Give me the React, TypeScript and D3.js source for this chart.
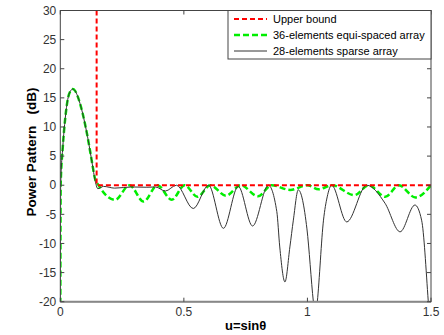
import React from 'react';
import * as d3 from 'd3';

const width = 444;
const height = 335;
const margin = { top: 10.5, right: 13, bottom: 33.3, left: 60.3 };

const xTicks = [0, 0.5, 1, 1.5];
const yTicks = [-20, -15, -10, -5, 0, 5, 10, 15, 20, 25, 30];

const legendLabels = ['Upper bound', '36-elements equi-spaced array', '28-elements sparse array'];

// upper bound mask
const boundU = [0.147, 0.147, 1.5];
const boundDb = [30, 0, 0];

// 36-element equi-spaced array
const equiU = [0, 0.0015, 0.01, 0.02, 0.03, 0.04, 0.05, 0.06, 0.07, 0.08, 0.09, 0.1, 0.11, 0.12, 0.13, 0.14,
  0.155, 0.222, 0.28, 0.337, 0.393, 0.451, 0.503, 0.555, 0.607, 0.67, 0.73, 0.8, 0.855, 0.93, 1.0, 1.045,
  1.1, 1.19, 1.248, 1.315, 1.37, 1.437, 1.5];
const equiDb = [-25, 0, 6.5, 11.5, 14.7, 16.1, 16.5, 16.2, 15.3, 14, 12.4, 10.5, 8.4, 6, 3.5, 1.2,
  0, -2.5, 0, -2.8, 0, -2.5, 0, -2.0, 0, -1.8, 0, -1.9, 0, -0.8, 0, -0.7,
  0, -1.7, 0, -2, 0, -2.1, 0];

// 28-element sparse array
const sparseU = [0, 0.0015, 0.01, 0.02, 0.03, 0.04, 0.05, 0.06, 0.07, 0.08, 0.09, 0.1, 0.11, 0.12, 0.13, 0.14,
  0.152, 0.175, 0.22, 0.29, 0.35, 0.385, 0.425, 0.47, 0.538, 0.6, 0.66, 0.72, 0.778, 0.842,
  0.876, 0.888, 0.909, 0.929, 0.943, 0.963, 0.998, 1.024, 1.032, 1.04, 1.065, 1.08, 1.098,
  1.159, 1.24, 1.314, 1.375, 1.435, 1.462, 1.489, 1.5];
const sparseDb = [-25, 0, 6.5, 11.5, 14.7, 16.1, 16.5, 16.2, 15.3, 14, 12.4, 10.5, 8.4, 6, 3.5, 1.0,
  -0.6, -0.2, -0.5, -0.3, -0.35, -0.3, -1.0, 0, -4.0, 0, -7.4, -0.2, -7.0, 0,
  -4.5, -10.6, -16.6, -10.6, -6, -0.8, -7.5, -20, -23, -20, -6, -2, 0,
  -6.3, 0, -3.1, -8.0, -3.4, -6, -20, -27];

const font = 'Arial, "Liberation Sans", sans-serif';

export default function App() {
  const x = d3.scaleLinear().domain([0, 1.5]).range([margin.left, width - margin.right]);
  const y = d3.scaleLinear().domain([-20, 30]).range([height - margin.bottom, margin.top]);
  const x0 = x(0), x1 = x(1.5), y0 = y(-20), y1 = y(30);

  const curve = d3.line<[number, number]>()
    .x(d => x(d[0]))
    .y(d => y(d[1]))
    .curve(d3.curveMonotoneX);
  const straight = d3.line<[number, number]>().x(d => x(d[0])).y(d => y(d[1]));

  const equiPath = curve(equiU.map((u, i) => [u, equiDb[i]])) || '';
  const sparsePath = curve(sparseU.map((u, i) => [u, sparseDb[i]])) || '';
  const boundPath = straight(boundU.map((u, i) => [u, boundDb[i]])) || '';

  const legendStyles = [
    { stroke: '#ff0000', width: 2, dash: '5,3' },
    { stroke: '#00ee00', width: 2.5, dash: '6,3' },
    { stroke: '#333333', width: 1, dash: 'none' },
  ];

  return (
    <svg width={width} height={height} style={{ position: 'absolute', left: 0, top: 0, background: '#fff' }}>
      <defs>
        <clipPath id="plot">
          <rect x={x0} y={y1} width={x1 - x0} height={y0 - y1} />
        </clipPath>
      </defs>
      <rect x={0} y={0} width={width} height={height} fill="#fff" />

      <g clipPath="url(#plot)" fill="none">
        <path d={equiPath} stroke="#00ee00" strokeWidth={2.5} strokeDasharray="6,3" />
        <path d={sparsePath} stroke="#333" strokeWidth={1} />
        <path d={boundPath} stroke="#ff0000" strokeWidth={2} strokeDasharray="5,3" />
      </g>

      {/* axes box */}
      <rect x={x0} y={y1} width={x1 - x0} height={y0 - y1} fill="none" stroke="#444" strokeWidth={1} />
      <line x1={x0} x2={x1} y1={y0} y2={y0} stroke="#888" strokeWidth={2} />

      {yTicks.map(t => (
        <g key={'y' + t}>
          <line x1={x0} x2={x0 + 4} y1={y(t)} y2={y(t)} stroke="#444" />
          <line x1={x1} x2={x1 - 4} y1={y(t)} y2={y(t)} stroke="#444" />
          <text x={x0 - 4} y={y(t)} dy="0.35em" textAnchor="end" fontFamily={font} fontSize={12} fill="#333">{t}</text>
        </g>
      ))}
      {xTicks.map(t => (
        <g key={'x' + t}>
          <line x1={x(t)} x2={x(t)} y1={y0} y2={y0 - 4} stroke="#444" />
          <line x1={x(t)} x2={x(t)} y1={y1} y2={y1 + 4} stroke="#444" />
          <text x={x(t)} y={y0 + 14} textAnchor="middle" fontFamily={font} fontSize={12} fill="#333">{t}</text>
        </g>
      ))}

      <text x={(x0 + x1) / 2} y={330} textAnchor="middle" fontFamily={font} fontSize={13} fontWeight="bold" fill="#000">u=sinθ</text>
      <text transform={`translate(36,${(y0 + y1) / 2 - 4}) rotate(-90)`} textAnchor="middle" fontFamily={font}
        fontSize={13.5} fontWeight="bold" fill="#000" style={{ whiteSpace: 'pre' }}>{'Power Pattern   (dB)'}</text>

      {/* legend */}
      <g>
        <rect x={228} y={y1} width={x1 - 228} height={48.5} fill="#fff" stroke="#444" strokeWidth={1} />
        {legendLabels.map((label, i) => (
          <g key={label} transform={`translate(0,${19 + i * 16})`}>
            <line x1={234} x2={267} y1={0} y2={0} stroke={legendStyles[i].stroke}
              strokeWidth={legendStyles[i].width} strokeDasharray={legendStyles[i].dash} />
            <text x={273} y={0} dy="0.35em" fontFamily={font} fontSize={11} fill="#000">{label}</text>
          </g>
        ))}
      </g>
    </svg>
  );
}
